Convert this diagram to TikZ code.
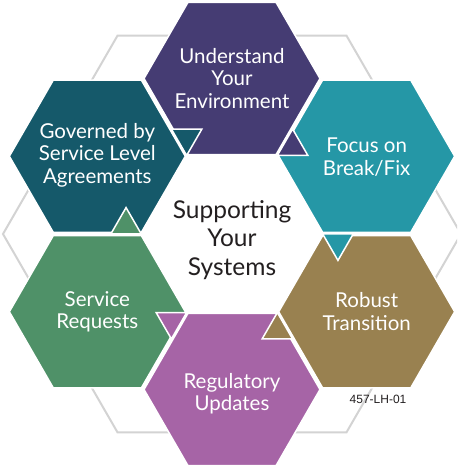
\documentclass[tikz,border=0pt]{standalone}
\usepackage{fontspec}
\setmainfont{Lato}
\newfontfamily\labelfont{Liberation Sans}
\usetikzlibrary{shapes.geometric,calc}
\definecolor{cPurple}{HTML}{453C73}
\definecolor{cDteal}{HTML}{15596A}
\definecolor{cTeal}{HTML}{2597A6}
\definecolor{cOlive}{HTML}{998150}
\definecolor{cPink}{HTML}{A664A6}
\definecolor{cGreen}{HTML}{4F9168}
\definecolor{cRing}{HTML}{D3D3D3}
\definecolor{cDark}{HTML}{231F20}
\tikzset{
  hexbox/.style={regular polygon, regular polygon sides=6, minimum size=176pt,
    inner sep=0pt, draw=white, line width=1.5pt},
  hextext/.style={text=white, align=center, inner sep=0pt,
    font=\fontsize{20.5}{22.5}\selectfont},
  ringhex/.style={regular polygon, regular polygon sides=6, minimum size=458pt,
    inner sep=0pt, draw=cRing, line width=2pt},
  pointer/.style={draw=white, line width=1.5pt, line join=miter},
  centertext/.style={align=center, text=cDark, font=\fontsize{24.5}{28.5}\selectfont},
  codelabel/.style={text=cDark, font=\labelfont\fontsize{12}{13}\selectfont}
}
\begin{document}
\begin{tikzpicture}[x=1pt,y=1pt]
\useasboundingbox (0,0) rectangle (457,465);
\clip (0,0) rectangle (457,465);
\coordinate (C) at (232,231);
\node[ringhex] (ring) at (C) {};
\node[hexbox, fill=cPurple] (und) at ($(C)+(90:155.5)$) {};
\node[hexbox, fill=cTeal]   (foc) at ($(C)+(30:155.5)$) {};
\node[hexbox, fill=cOlive]  (rob) at ($(C)+(-30:155.5)$) {};
\node[hexbox, fill=cPink]   (reg) at ($(C)+(-90:155.5)$) {};
\node[hexbox, fill=cGreen]  (ser) at ($(C)+(-150:155.5)$) {};
\node[hexbox, fill=cDteal]  (gov) at ($(C)+(150:155.5)$) {};
% pointers: colour of previous hexagon, lying in the next one (clockwise)
\foreach \m/\col in {120/cDteal, 60/cPurple, 0/cTeal, -60/cOlive, -120/cPink, 180/cGreen}{
  \path[pointer, fill=\col] ($(C)+(\m:90.7)$) -- ($(C)+(\m:90.7)+(\m:30.5)$)
    -- ($(C)+(\m:90.7)+(\m-60:30.5)$) -- cycle;
}
\node[hextext] (und-t) at ($(und.center)+(0,0)$) {Understand\\Your\\Environment};
\node[hextext] (foc-t) at ($(foc.center)+(0,-1)$) {Focus on\\Break/Fix};
\node[hextext] (rob-t) at ($(rob.center)+(0,0)$) {Robust\\Transition};
\node[hextext] (reg-t) at ($(reg.center)+(0,-4)$) {Regulatory\\Updates};
\node[hextext] (ser-t) at ($(ser.center)+(0,0)$) {Service\\Requests};
\node[hextext] (gov-t) at ($(gov.center)+(0,1)$) {Governed by\\Service Level\\Agreements};
\node[centertext] (mid) at ($(C)+(0,-6)$) {Supporting\\Your\\Systems};
\node[codelabel] (code) at (378,66) {457-LH-01};
\end{tikzpicture}
\end{document}
